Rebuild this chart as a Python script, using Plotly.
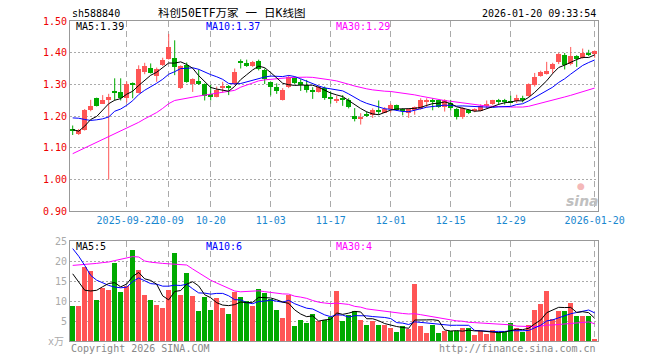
import pandas as pd
import plotly.graph_objects as go

# ---------------- data ----------------
holidays = pd.to_datetime(["2025-10-01", "2025-10-02", "2025-10-03", "2025-10-06",
                           "2025-10-07", "2025-10-08", "2026-01-01", "2026-01-02"])
days = pd.bdate_range("2025-09-09", "2026-01-20")
days = days[~days.isin(holidays)]
dates = [d.strftime("%Y-%m-%d") for d in days]

open_ = [1.160, 1.144, 1.155, 1.220, 1.256, 1.239, 1.251, 1.277, 1.276, 1.256,
         1.303, 1.274, 1.339, 1.351, 1.327, 1.360, 1.381, 1.384, 1.288, 1.360,
         1.301, 1.311, 1.301, 1.269, 1.261, 1.288, 1.295, 1.300, 1.374, 1.368,
         1.359, 1.373, 1.345, 1.306, 1.291, 1.251, 1.291, 1.319, 1.307, 1.298,
         1.282, 1.277, 1.288, 1.256, 1.249, 1.254, 1.249, 1.201, 1.191, 1.203,
         1.204, 1.218, 1.211, 1.222, 1.234, 1.220, 1.209, 1.222, 1.222, 1.245,
         1.249, 1.249, 1.230, 1.241, 1.223, 1.197, 1.218, 1.217, 1.217, 1.233,
         1.239, 1.247, 1.248, 1.247, 1.246, 1.256, 1.264, 1.298, 1.327, 1.334,
         1.347, 1.371, 1.392, 1.364, 1.390, 1.384, 1.399, 1.395]
high = [1.170, 1.159, 1.222, 1.251, 1.258, 1.266, 1.270, 1.319, 1.319, 1.309,
        1.306, 1.360, 1.368, 1.366, 1.353, 1.384, 1.459, 1.439, 1.360, 1.369,
        1.319, 1.347, 1.303, 1.298, 1.293, 1.308, 1.298, 1.350, 1.379, 1.378,
        1.374, 1.378, 1.350, 1.308, 1.303, 1.288, 1.329, 1.324, 1.316, 1.314,
        1.291, 1.295, 1.293, 1.277, 1.264, 1.266, 1.256, 1.225, 1.209, 1.214,
        1.224, 1.249, 1.228, 1.239, 1.236, 1.224, 1.225, 1.230, 1.256, 1.256,
        1.256, 1.251, 1.253, 1.251, 1.225, 1.228, 1.222, 1.224, 1.237, 1.249,
        1.251, 1.254, 1.254, 1.264, 1.267, 1.264, 1.303, 1.336, 1.343, 1.371,
        1.368, 1.399, 1.399, 1.418, 1.392, 1.413, 1.409, 1.407]
low = [1.140, 1.140, 1.154, 1.215, 1.230, 1.238, 0.999, 1.249, 1.249, 1.243,
       1.256, 1.272, 1.332, 1.334, 1.308, 1.358, 1.378, 1.329, 1.285, 1.305,
       1.276, 1.298, 1.249, 1.249, 1.259, 1.274, 1.266, 1.298, 1.350, 1.355,
       1.355, 1.344, 1.301, 1.265, 1.270, 1.249, 1.288, 1.301, 1.279, 1.274,
       1.254, 1.274, 1.251, 1.239, 1.241, 1.232, 1.224, 1.183, 1.173, 1.197,
       1.194, 1.204, 1.209, 1.211, 1.216, 1.202, 1.194, 1.204, 1.220, 1.228,
       1.218, 1.226, 1.214, 1.217, 1.189, 1.191, 1.206, 1.212, 1.215, 1.225,
       1.235, 1.235, 1.236, 1.241, 1.241, 1.243, 1.261, 1.293, 1.324, 1.331,
       1.334, 1.364, 1.347, 1.360, 1.355, 1.381, 1.389, 1.384]
close = [1.152, 1.157, 1.220, 1.232, 1.232, 1.251, 1.259, 1.275, 1.258, 1.301,
         1.298, 1.350, 1.357, 1.337, 1.349, 1.376, 1.418, 1.355, 1.357, 1.308,
         1.316, 1.301, 1.263, 1.263, 1.282, 1.295, 1.288, 1.340, 1.370, 1.359,
         1.371, 1.347, 1.316, 1.293, 1.279, 1.282, 1.324, 1.305, 1.298, 1.282,
         1.277, 1.291, 1.258, 1.254, 1.253, 1.251, 1.228, 1.189, 1.197, 1.201,
         1.218, 1.215, 1.223, 1.236, 1.218, 1.217, 1.222, 1.228, 1.251, 1.249,
         1.246, 1.228, 1.249, 1.225, 1.197, 1.224, 1.209, 1.220, 1.232, 1.236,
         1.251, 1.245, 1.245, 1.244, 1.256, 1.249, 1.300, 1.324, 1.340, 1.343,
         1.364, 1.395, 1.361, 1.390, 1.381, 1.399, 1.392, 1.404]
# volume, in 万 (10k)
volume = [8.7, 8.7, 18.4, 17.4, 10.2, 13.2, 12.7, 19.4, 12.2, 13.7,
          22.7, 17.7, 11.4, 10.2, 8.9, 8.2, 12.7, 21.9, 11.4, 16.9,
          11.2, 7.4, 10.9, 7.7, 10.7, 8.2, 6.7, 12.2, 10.9, 9.9,
          8.7, 12.9, 11.9, 10.4, 7.7, 5.7, 11.4, 3.7, 5.2, 4.4,
          6.7, 4.9, 5.2, 5.9, 12.4, 4.9, 6.4, 7.4, 5.2, 3.9,
          4.9, 3.9, 3.9, 3.2, 2.2, 3.7, 2.9, 14.2, 3.7, 1.9,
          3.9, 1.9, 2.4, 2.4, 2.4, 3.2, 3.2, 1.4, 2.4, 1.7,
          2.7, 2.2, 2.2, 4.4, 3.2, 2.2, 3.9, 7.7, 9.2, 12.4,
          5.4, 7.4, 7.4, 9.4, 6.2, 6.2, 6.2, 0.4]

# moving-average values at the left edge (window not yet full inside the view)
ma5_head = [1.157, 1.152, 1.168, 1.189]
ma10_head = [1.194, 1.193, 1.189, 1.186, 1.188, 1.191, 1.197, 1.215, 1.222]
ma30_head = [1.081, 1.090, 1.098, 1.106, 1.115, 1.124, 1.134, 1.143, 1.152, 1.161,
             1.171, 1.180, 1.191, 1.201, 1.211, 1.224, 1.239, 1.249, 1.253, 1.256,
             1.259, 1.263, 1.266, 1.269, 1.272, 1.275, 1.277, 1.281, 1.291]
vol_ma5_head = [16.8, 14.75, 12.7, 12.5]
vol_ma10_head = [23.1, 21.2, 18.9, 16.4, 15.2, 14.5, 13.9, 13.5, 13.3]
vol_ma30_head = [18.9, 19.0, 19.1, 19.25, 19.4, 19.6, 19.75, 20.1, 20.4, 20.8,
                 21.1, 21.0, 20.0, 19.7, 19.5, 19.4, 19.3, 19.25, 19.2, 19.0,
                 18.0, 17.0, 16.0, 15.2, 14.5, 13.8, 13.2, 12.5, 12.3]

tick_dates = ["2025-09-22", "2025-10-09", "2025-10-20", "2025-11-03", "2025-11-17",
              "2025-12-01", "2025-12-15", "2025-12-29", "2026-01-20"]
tick_text = ["2025-09-22", "10-09", "10-20", "11-03", "11-17",
             "12-01", "12-15", "12-29", "2026-01-20"]
price_ticks = [0.90, 1.00, 1.10, 1.20, 1.30, 1.40, 1.50]
vol_ticks = [5, 10, 15, 20, 25]

# ---------------- helpers ----------------
def moving_average(values, window, head):
    s = pd.Series(values).rolling(window).mean().tolist()
    return list(head) + s[len(head):]

ma5 = moving_average(close, 5, ma5_head)
ma10 = moving_average(close, 10, ma10_head)
ma30 = moving_average(close, 30, ma30_head)
vma5 = moving_average(volume, 5, vol_ma5_head)
vma10 = moving_average(volume, 10, vol_ma10_head)
vma30 = moving_average(volume, 30, vol_ma30_head)

RED = "#ff5555"
GREEN = "#00aa00"
up = [c > o for o, c in zip(open_, close)]
colors = [RED if u else GREEN for u in up]

MONO = "DejaVu Sans Mono, Liberation Mono, monospace"
CJK = "DejaVu Sans Mono, Noto Sans CJK SC, monospace"

fig = go.Figure()

# wicks
for col, flag in ((RED, True), (GREEN, False)):
    xs, ys = [], []
    for d, h, l, u in zip(dates, high, low, up):
        if u == flag:
            xs += [d, d, None]
            ys += [l, h, None]
    fig.add_trace(go.Scatter(x=xs, y=ys, mode="lines", line=dict(color=col, width=1),
                             hoverinfo="skip", showlegend=False, xaxis="x", yaxis="y"))

# bodies
base = [min(o, c) for o, c in zip(open_, close)]
height = [max(abs(c - o), 0.003) for o, c in zip(open_, close)]
fig.add_trace(go.Bar(x=dates, y=height, base=base, width=0.82,
                     marker=dict(color=colors, line=dict(width=0)),
                     showlegend=False, xaxis="x", yaxis="y"))

# price MAs
for vals, col in ((ma30, "#ff00ff"), (ma10, "#0000ff"), (ma5, "#000000")):
    fig.add_trace(go.Scatter(x=dates, y=vals, mode="lines", line=dict(color=col, width=1),
                             showlegend=False, xaxis="x", yaxis="y"))

# volume bars
fig.add_trace(go.Bar(x=dates, y=volume, width=0.82,
                     marker=dict(color=colors, line=dict(width=0)),
                     showlegend=False, xaxis="x2", yaxis="y2"))
for vals, col in ((vma30, "#ff00ff"), (vma10, "#0000ff"), (vma5, "#000000")):
    fig.add_trace(go.Scatter(x=dates, y=vals, mode="lines", line=dict(color=col, width=1),
                             showlegend=False, xaxis="x2", yaxis="y2"))

# ---------------- layout ----------------
# the page body adds an 8px margin; size the figure so the screen layout matches
OFF = 8
W, H = 660 - OFF, 360 - OFF
PLOT_L, PLOT_R, PLOT_T, PLOT_B = 70, 598, 21, 341        # screen pixels
L, T = PLOT_L - OFF, PLOT_T - OFF
R, B = W - (PLOT_R - OFF), H - (PLOT_B - OFF)
PW, PH = PLOT_R - PLOT_L, PLOT_B - PLOT_T


def px(x, y):
    return (x - PLOT_L) / PW, (PLOT_B - y) / PH


annots = []


def label(text, x, y, color, size=10, anchor="left", family=MONO, **kw):
    xp, yp = px(x, y)
    annots.append(dict(text=text, x=xp, y=yp, xref="paper", yref="paper",
                       xanchor=anchor, yanchor="middle", showarrow=False,
                       font=dict(family=family, size=size, color=color), **kw))


label("sh588840", 70, 13, "#000000")
label("科创50ETF万家 一 日K线图", 231, 13, "#000000", size=11.5, anchor="center", family=CJK)
label("2026-01-20 09:33:54", 598, 13, "#000000", anchor="right")
label("MA5:1.39", 74, 26, "#000000")
label("MA10:1.37", 204, 26, "#0000ff")
label("MA30:1.29", 334, 26, "#ff00ff")
label("MA5:5", 74, 246, "#000000")
label("MA10:6", 204, 246, "#0000ff")
label("MA30:4", 334, 246, "#ff00ff")
label("x万", 66, 341, "#aaaaaa", anchor="right", family=CJK)
label("Copyright 2026 SINA.COM", 69, 348, "#888888")
label("http://finance.sina.com.cn", 598, 348, "#888888", anchor="right")
label("<i><b>sina</b></i>", 582, 201, "#c0c0c0", size=14, anchor="center",
      family="DejaVu Sans, sans-serif")
label("●", 581, 186, "#f4b8b8", size=9, anchor="center", family="DejaVu Sans")

n = len(dates)
xrange_ = [-0.45, n - 0.45]
axis_common = dict(showline=True, mirror=True, linecolor="#999999", linewidth=1,
                   zeroline=False, fixedrange=True, automargin=False)
GRID = "#aaaaaa"

fig.update_layout(
    width=W, height=H,
    margin=dict(l=L, r=R, t=T, b=B, pad=0, autoexpand=False),
    paper_bgcolor="white", plot_bgcolor="white",
    bargap=0, barmode="overlay", hovermode=False, showlegend=False,
    annotations=annots,
    xaxis=dict(domain=[0, 1], anchor="y", type="category", categoryorder="array",
               categoryarray=dates, range=xrange_,
               tickmode="array", tickvals=tick_dates, ticktext=tick_text, tickangle=0,
               tickfont=dict(family=MONO, size=10, color="#1a88d0"),
               ticks="", showgrid=True, gridcolor=GRID, gridwidth=1,
               griddash="6px,4px", **axis_common),
    yaxis=dict(domain=[(PLOT_B - 211) / PH, 1], anchor="x", range=[0.90, 1.50],
               tickmode="array", tickvals=price_ticks,
               ticktext=[f"{v:.2f}" for v in price_ticks],
               tickfont=dict(family=MONO, size=10, color="#ee0000"),
               ticks="", showgrid=True, gridcolor=GRID, gridwidth=1,
               griddash="2px,2px", **axis_common),
    xaxis2=dict(domain=[0, 1], anchor="y2", type="category", categoryorder="array",
                categoryarray=dates, range=xrange_, matches="x",
                tickmode="array", tickvals=tick_dates, showticklabels=False,
                ticks="", showgrid=True, gridcolor=GRID, gridwidth=1,
                griddash="6px,4px", **axis_common),
    yaxis2=dict(domain=[0, (PLOT_B - 241) / PH], anchor="x2", range=[0, 25],
                tickmode="array", tickvals=vol_ticks,
                ticktext=[str(v) for v in vol_ticks],
                tickfont=dict(family=MONO, size=10, color="#aaaaaa"),
                ticks="", showgrid=True, gridcolor=GRID, gridwidth=1,
                griddash="2px,2px", **axis_common),
)

fig.write_html("out.html")
